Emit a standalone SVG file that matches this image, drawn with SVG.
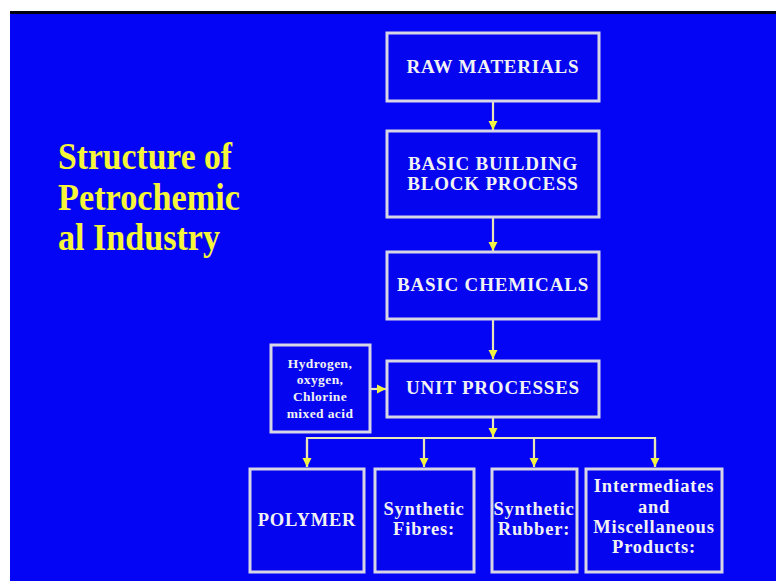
<svg xmlns="http://www.w3.org/2000/svg" width="776" height="581" viewBox="0 0 776 581">
<defs>
<style>
.box{fill:#0505F0;stroke:#D6D6E6;stroke-width:3}
.t{font-family:"Liberation Serif","Times New Roman",serif;font-weight:bold;fill:#F2F2F2;text-anchor:middle}
.big{font-size:19px;letter-spacing:0.8px}
.mid{font-size:18.5px;letter-spacing:0.8px}
.sm{font-size:13.5px;letter-spacing:0.4px}
.conn{stroke:#E6E6B8;stroke-width:2.2;fill:none}
.title{font-family:"Liberation Serif","Times New Roman",serif;font-weight:bold;font-size:37px;fill:#F5F53A}
</style>
<marker id="ah" viewBox="0 0 10 10" refX="10" refY="5" markerWidth="9" markerHeight="10" markerUnits="userSpaceOnUse" orient="auto">
<path d="M0,0 L10,5 L0,10 Z" fill="#F2F240"/>
</marker>
</defs>
<rect x="0" y="0" width="776" height="581" fill="#FFFFFF"/>
<rect x="10" y="11" width="766" height="570" fill="#0505F5"/>
<rect x="10" y="11" width="766" height="3" fill="#000010"/>

<g id="title">
<text class="title" x="58" y="169" textLength="174" lengthAdjust="spacingAndGlyphs">Structure of</text>
<text class="title" x="58" y="210" textLength="182" lengthAdjust="spacingAndGlyphs">Petrochemic</text>
<text class="title" x="58" y="250" textLength="162" lengthAdjust="spacingAndGlyphs">al Industry</text>
</g>

<g id="connectors">
<line class="conn" x1="493" y1="102" x2="493" y2="130" marker-end="url(#ah)"/>
<line class="conn" x1="493" y1="218" x2="493" y2="251" marker-end="url(#ah)"/>
<line class="conn" x1="493" y1="320" x2="493" y2="359" marker-end="url(#ah)"/>
<line class="conn" x1="371" y1="389" x2="386" y2="389" marker-end="url(#ah)"/>
<line class="conn" x1="493" y1="418" x2="493" y2="437" marker-end="url(#ah)"/>
<polyline class="conn" points="307,467 307,438 655,438 655,467"/>
<line class="conn" x1="307" y1="440" x2="307" y2="467" marker-end="url(#ah)"/>
<line class="conn" x1="424" y1="438" x2="424" y2="467" marker-end="url(#ah)"/>
<line class="conn" x1="534" y1="438" x2="534" y2="467" marker-end="url(#ah)"/>
<line class="conn" x1="655" y1="440" x2="655" y2="467" marker-end="url(#ah)"/>
</g>

<g id="raw">
<rect class="box" x="387" y="33" width="212" height="68"/>
<text class="t big" x="493" y="73">RAW MATERIALS</text>
</g>
<g id="bbb">
<rect class="box" x="387" y="131" width="212" height="86"/>
<text class="t big" x="493" y="170">BASIC BUILDING</text>
<text class="t big" x="493" y="190">BLOCK PROCESS</text>
</g>
<g id="chem">
<rect class="box" x="387" y="252" width="212" height="67"/>
<text class="t big" x="493" y="291">BASIC CHEMICALS</text>
</g>
<g id="unit">
<rect class="box" x="387" y="361" width="212" height="56"/>
<text class="t big" x="493" y="394">UNIT PROCESSES</text>
</g>
<g id="hydrogen">
<rect class="box" x="271" y="345" width="99" height="87"/>
<text class="t sm" x="320" y="368">Hydrogen,</text>
<text class="t sm" x="320" y="384">oxygen,</text>
<text class="t sm" x="320" y="401">Chlorine</text>
<text class="t sm" x="320" y="418">mixed acid</text>
</g>
<g id="polymer">
<rect class="box" x="250" y="469" width="114" height="103"/>
<text class="t mid" x="307" y="526">POLYMER</text>
</g>
<g id="fibres">
<rect class="box" x="375" y="469" width="99" height="103"/>
<text class="t mid" x="424" y="515">Synthetic</text>
<text class="t mid" x="424" y="535">Fibres:</text>
</g>
<g id="rubber">
<rect class="box" x="492" y="469" width="85" height="103"/>
<text class="t mid" x="534" y="515">Synthetic</text>
<text class="t mid" x="534" y="535">Rubber:</text>
</g>
<g id="intermediates">
<rect class="box" x="586" y="469" width="136" height="103"/>
<text class="t mid" x="654" y="492">Intermediates</text>
<text class="t mid" x="654" y="513">and</text>
<text class="t mid" x="654" y="533">Miscellaneous</text>
<text class="t mid" x="654" y="553">Products:</text>
</g>
</svg>
